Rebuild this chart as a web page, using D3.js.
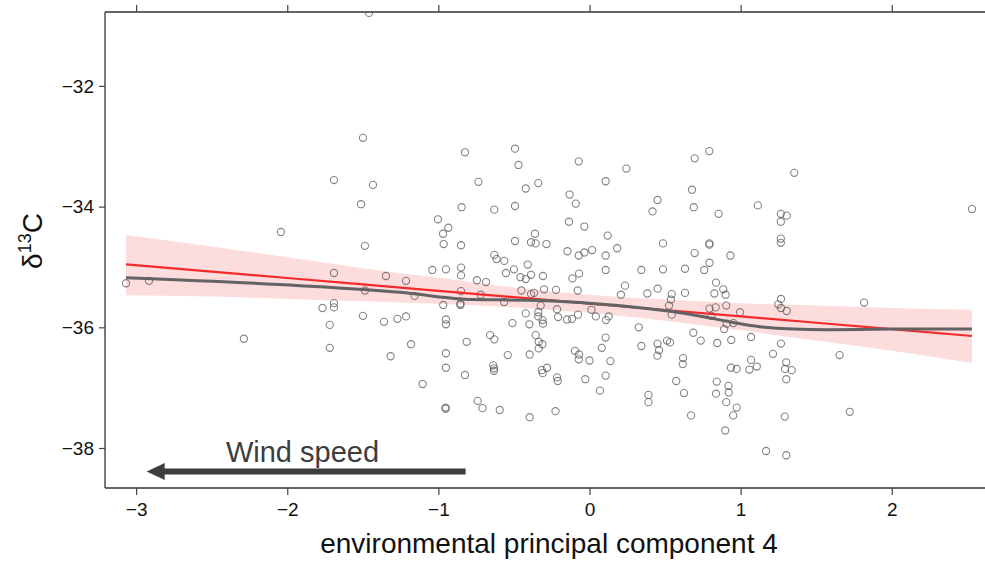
<!DOCTYPE html>
<html>
<head>
<meta charset="utf-8">
<script src="https://cdn.jsdelivr.net/npm/d3@7/dist/d3.min.js"></script>
<style>
  html, body { margin: 0; padding: 0; background: #fff; }
  svg { display: block; font-family: "Liberation Sans", Arial, sans-serif; }
</style>
</head>
<body>
<svg id="chart" width="985" height="563"></svg>
<script>
// Environmental PC4 score (x) for each sample
const pc4 = [
  -3.067,-2.915,-2.287,-2.042,-1.767,-1.719,-1.719,-1.691,-1.691,-1.691,
  -1.691,-1.512,-1.499,-1.499,-1.486,-1.486,-1.459,-1.433,-1.360,-1.347,
  -1.316,-1.271,-1.214,-1.214,-1.181,-1.158,-1.104,-1.040,-1.003,-0.969,
  -0.965,-0.968,-0.950,-0.950,-0.950,-0.950,-0.950,-0.952,-0.952,-0.934,
  -0.850,-0.850,-0.850,-0.854,-0.854,-0.846,-0.850,-0.824,-0.813,-0.824,
  -0.745,-0.740,-0.735,-0.720,-0.708,-0.685,-0.658,-0.630,-0.630,-0.615,
  -0.630,-0.637,-0.632,-0.632,-0.594,-0.564,-0.565,-0.553,-0.541,-0.510,
  -0.500,-0.493,-0.493,-0.493,-0.470,-0.457,-0.451,-0.422,-0.422,-0.422,
  -0.409,-0.398,-0.396,-0.396,-0.387,-0.387,-0.387,-0.367,-0.361,-0.356,
  -0.356,-0.339,-0.339,-0.339,-0.336,-0.336,-0.323,-0.311,-0.308,-0.308,
  -0.301,-0.312,-0.316,-0.281,-0.310,-0.285,-0.222,-0.215,-0.208,-0.215,
  -0.210,-0.225,-0.146,-0.149,-0.132,-0.136,-0.116,-0.113,-0.091,-0.096,
  -0.078,-0.076,-0.071,-0.071,-0.069,-0.069,-0.071,-0.034,-0.034,-0.028,
   0.000, 0.013, 0.017, 0.042, 0.069, 0.081, 0.107, 0.107, 0.107, 0.107,
   0.107, 0.109, 0.120, 0.127, 0.138, 0.183, 0.208, 0.235, 0.244, 0.326,
   0.343, 0.343, 0.383, 0.390, 0.390, 0.417, 0.450, 0.451, 0.450, 0.460,
   0.449, 0.486, 0.486, 0.513, 0.533, 0.526, 0.544, 0.539, 0.544, 0.574,
   0.619, 0.617, 0.625, 0.632, 0.632, 0.672, 0.678, 0.690, 0.696, 0.696,
   0.687, 0.736, 0.759, 0.793, 0.793, 0.794, 0.794, 0.794, 0.806, 0.826,
   0.837, 0.835, 0.842, 0.837, 0.845, 0.854, 0.885, 0.891, 0.901, 0.905,
   0.898, 0.905, 0.908, 0.920, 0.921, 0.932, 0.938, 0.936, 0.952, 0.951,
   0.974, 0.974, 0.996, 1.058, 1.069, 1.069, 1.107, 1.114, 1.168, 1.214,
   1.266, 1.305, 1.266, 1.266, 1.266, 1.267, 1.249, 1.267, 1.305, 1.267,
   1.302, 1.294, 1.338, 1.302, 1.292, 1.302, 1.355, 1.655, 1.722, 1.817,
   2.531
];

// Carbon isotope ratio, delta 13C (y), same order as pc4
const d13C = [
  -35.27,-35.23,-36.19,-34.42,-35.68,-35.96,-36.34,-33.56,-35.10,-35.60,
  -35.67,-33.96,-32.86,-35.81,-34.65,-35.39,-30.79,-33.64,-35.91,-35.15,
  -36.48,-35.86,-35.23,-35.82,-36.28,-35.48,-36.94,-35.05,-34.21,-34.45,
  -34.62,-35.63,-35.04,-35.87,-35.95,-36.43,-36.67,-37.33,-37.35,-34.35,
  -35.01,-35.14,-35.40,-35.61,-35.63,-34.01,-34.64,-33.10,-36.24,-36.79,
  -35.22,-37.22,-33.59,-35.46,-37.34,-35.25,-36.13,-36.20,-34.80,-34.87,
  -34.05,-36.63,-36.68,-36.72,-37.37,-34.90,-35.58,-35.10,-36.46,-35.93,
  -35.04,-33.04,-33.99,-34.57,-33.31,-35.17,-35.39,-33.70,-35.20,-35.77,
  -34.96,-35.95,-36.45,-37.49,-34.59,-35.13,-35.45,-35.43,-34.45,-34.61,
  -36.13,-33.61,-35.75,-35.82,-36.24,-36.35,-35.64,-35.88,-35.94,-35.15,
  -35.37,-36.28,-36.71,-36.67,-36.76,-34.62,-35.38,-35.70,-35.83,-36.83,
  -36.89,-37.39,-34.74,-35.87,-33.80,-34.25,-35.86,-35.19,-33.95,-36.39,
  -35.39,-35.79,-34.81,-33.25,-35.11,-36.45,-36.53,-34.76,-34.33,-36.86,
  -36.55,-35.71,-34.72,-35.82,-37.05,-36.34,-33.58,-34.81,-35.05,-36.17,
  -36.80,-35.88,-34.48,-35.82,-36.56,-34.69,-35.46,-35.31,-33.37,-36.00,
  -35.05,-36.31,-35.44,-37.12,-37.24,-34.08,-33.89,-35.36,-36.27,-36.38,
  -36.47,-34.61,-35.04,-36.22,-36.25,-35.64,-35.45,-35.54,-35.79,-36.89,
  -36.51,-36.61,-37.09,-35.03,-35.43,-37.46,-33.72,-34.01,-33.20,-34.77,
  -36.09,-36.22,-35.05,-33.08,-34.61,-34.63,-34.93,-35.69,-35.81,-35.44,
  -35.26,-35.67,-36.90,-37.10,-36.26,-34.12,-35.37,-36.03,-35.46,-35.64,
  -37.71,-37.24,-35.94,-36.97,-37.08,-34.81,-36.21,-36.67,-35.93,-37.46,
  -36.69,-37.33,-35.75,-36.70,-36.16,-36.54,-36.65,-33.98,-38.05,-36.44,
  -34.12,-34.15,-34.25,-34.53,-34.60,-35.53,-35.62,-35.68,-35.73,-36.27,
  -36.58,-36.69,-36.71,-36.86,-37.48,-38.12,-33.44,-36.46,-37.40,-35.59,
  -34.04
];

// Linear fit (red) with its confidence band
const fitX     = [-3.067, -2.5, -2, -1.5, -1, -0.5, 0, 0.5, 1, 1.5, 2, 2.531];
const fitY     = [-34.956, -35.077, -35.183, -35.289, -35.395, -35.501, -35.607, -35.713, -35.819, -35.925, -36.031, -36.144];
const fitLower = [-35.47, -35.49, -35.53, -35.57, -35.61, -35.67, -35.76, -35.89, -36.05, -36.22, -36.39, -36.59];
const fitUpper = [-34.47, -34.66, -34.84, -35.02, -35.18, -35.34, -35.46, -35.54, -35.60, -35.64, -35.68, -35.71];

// Smoothed trend (grey)
const smoothX = [-3.067, -1.916, -1.254, -0.771, -0.394, -0.063, 0.379, 0.599, 0.764, 0.930, 1.128, 1.346, 1.570, 2.009, 2.531];
const smoothY = [-35.18, -35.31, -35.42, -35.54, -35.55, -35.59, -35.69, -35.76, -35.83, -35.91, -35.99, -36.03, -36.04, -36.03, -36.03];

// Axis ticks
const xTicks = [-3, -2, -1, 0, 1, 2];
const yTicks = [-38, -36, -34, -32];

// Annotation arrow (data units)
const arrowFrom = [-0.82, -38.39];
const arrowTo   = [-2.93, -38.39];
const arrowText = { label: "Wind speed", x: -2.406, y: -38.23 };

const svg = d3.select("#chart");
const L = 105, T = 12, R = 985, B = 488;

const x = d3.scaleLinear().domain([-3.206, 2.617]).range([L, R]);
const y = d3.scaleLinear().domain([-38.663, -30.775]).range([B, T]);

svg.append("defs").append("clipPath").attr("id", "plotclip")
  .append("rect").attr("x", L).attr("y", T).attr("width", R - L).attr("height", B - T);

const plot = svg.append("g").attr("clip-path", "url(#plotclip)");

// confidence band
const bandData = fitX.map((v, i) => ({ x: v, lo: fitLower[i], hi: fitUpper[i] }));
plot.append("path")
  .datum(bandData)
  .attr("fill", "#fcdcdc")
  .attr("d", d3.area().x(d => x(d.x)).y0(d => y(d.lo)).y1(d => y(d.hi)).curve(d3.curveMonotoneX));

// sample points
const pts = pc4.map((v, i) => ({ x: v, y: d13C[i] }));
plot.append("g")
  .selectAll("circle")
  .data(pts)
  .join("circle")
  .attr("cx", d => x(d.x))
  .attr("cy", d => y(d.y))
  .attr("r", 3.6)
  .attr("fill", "none")
  .attr("stroke", "#555")
  .attr("stroke-opacity", 0.72)
  .attr("stroke-width", 1.1);

// linear fit
plot.append("path")
  .datum(fitX.map((v, i) => ({ x: v, y: fitY[i] })))
  .attr("fill", "none")
  .attr("stroke", "#f52a2a")
  .attr("stroke-width", 2.2)
  .attr("d", d3.line().x(d => x(d.x)).y(d => y(d.y)));

// smoothed trend
plot.append("path")
  .datum(smoothX.map((v, i) => ({ x: v, y: smoothY[i] })))
  .attr("fill", "none")
  .attr("stroke", "#636363")
  .attr("stroke-width", 3)
  .attr("d", d3.line().x(d => x(d.x)).y(d => y(d.y)).curve(d3.curveMonotoneX));

// frame lines
const frame = svg.append("g").attr("stroke", "#333").attr("stroke-width", 1.3);
frame.append("line").attr("x1", L).attr("x2", R).attr("y1", T).attr("y2", T);
frame.append("line").attr("x1", L).attr("x2", R).attr("y1", B).attr("y2", B);
frame.append("line").attr("x1", L).attr("x2", L).attr("y1", T).attr("y2", B);

// axes
const axisStyle = g => {
  g.select(".domain").remove();
  g.selectAll(".tick line").attr("stroke", "#444").attr("stroke-width", 1.2);
  g.selectAll(".tick text").attr("fill", "#111").attr("font-size", 19)
    .attr("font-family", "'Liberation Sans', Arial, sans-serif");
};
const fmt = d => (d < 0 ? "\u2212" + Math.abs(d) : String(d));

svg.append("g").attr("transform", `translate(0,${B})`)
  .call(d3.axisBottom(x).tickValues(xTicks).tickFormat(fmt).tickSize(7).tickPadding(8))
  .call(axisStyle);

svg.append("g").attr("transform", `translate(0,${T})`)
  .call(d3.axisTop(x).tickValues(xTicks).tickFormat("").tickSize(7))
  .call(axisStyle);

svg.append("g").attr("transform", `translate(${L},0)`)
  .call(d3.axisLeft(y).tickValues(yTicks).tickFormat(fmt).tickSize(6).tickPadding(5))
  .call(axisStyle);

// axis titles
svg.append("text")
  .attr("x", (x(-3.206) + x(2.617)) / 2 + 4)
  .attr("y", 553)
  .attr("text-anchor", "middle")
  .attr("font-size", 28)
  .attr("fill", "#111")
  .text("environmental principal component 4");

const yt = svg.append("text")
  .attr("transform", "translate(42,241) rotate(-90)")
  .attr("text-anchor", "middle")
  .attr("font-size", 28)
  .attr("fill", "#111");
yt.append("tspan").text("\u03b4");
yt.append("tspan").attr("font-size", 18).attr("dy", -11).text("13");
yt.append("tspan").attr("dy", 11).text("C");

// annotation
const ann = svg.append("g");
const ax0 = x(arrowFrom[0]), ax1 = x(arrowTo[0]), ay = y(arrowFrom[1]);
ann.append("line")
  .attr("x1", ax0).attr("x2", ax1 + 14).attr("y1", ay).attr("y2", ay)
  .attr("stroke", "#3d3d3d").attr("stroke-width", 6);
ann.append("path")
  .attr("d", `M${ax1},${ay} L${ax1 + 18},${ay - 8.5} L${ax1 + 18},${ay + 8.5} Z`)
  .attr("fill", "#3d3d3d");
ann.append("text")
  .attr("x", x(arrowText.x)).attr("y", y(arrowText.y))
  .attr("font-size", 29)
  .attr("fill", "#3d3d3d")
  .text(arrowText.label);
</script>
</body>
</html>
